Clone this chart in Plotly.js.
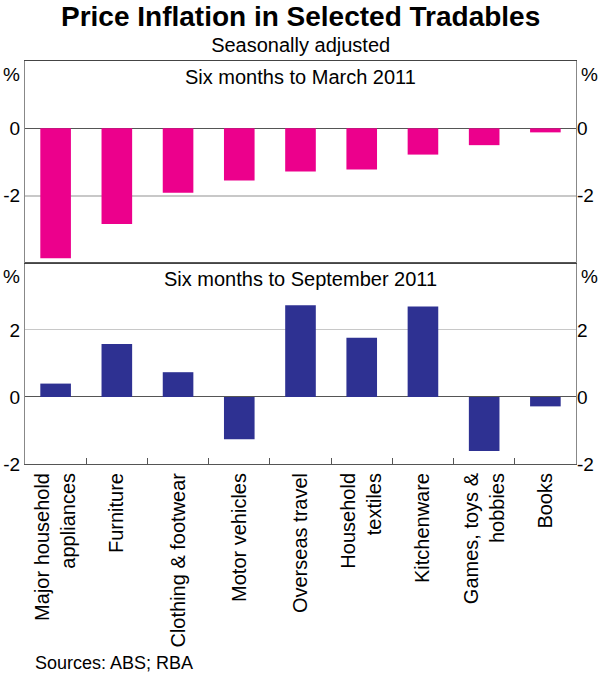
<!DOCTYPE html>
<html>
<head>
<meta charset="utf-8">
<script src="https://cdn.plot.ly/plotly-3.0.1.min.js"></script>
<style>html,body{margin:0;padding:0;background:#fff;}#chart{width:600px;height:675px;}</style>
</head>
<body>
<div id="chart"></div>
<script>
var categories = ["Major household<br>appliances", "Furniture", "Clothing & footwear", "Motor vehicles",
  "Overseas travel", "Household<br>textiles", "Kitchenware", "Games, toys &<br>hobbies", "Books"];
var march2011 = [-3.86, -2.84, -1.91, -1.55, -1.28, -1.22, -0.78, -0.50, -0.12];
var sept2011 = [0.40, 1.58, 0.74, -1.26, 2.74, 1.77, 2.70, -1.61, -0.28];
var topTicks = [-2, 0];
var bottomTicks = [-2, 0, 2];

var FONT = "Liberation Sans, Arial, sans-serif";
var split = 0.4988;

var traces = [
  {type: "bar", x: categories, y: sept2011, xaxis: "x", yaxis: "y",
   marker: {color: "#2E3192"}, width: 0.5, hoverinfo: "skip"},
  {type: "bar", x: categories, y: march2011, xaxis: "x2", yaxis: "y2",
   marker: {color: "#EC008C"}, width: 0.5, hoverinfo: "skip"},
  {type: "scatter", mode: "markers", x: categories, y: sept2011, xaxis: "x", yaxis: "y3",
   marker: {opacity: 0}, hoverinfo: "skip"},
  {type: "scatter", mode: "markers", x: categories, y: march2011, xaxis: "x2", yaxis: "y4",
   marker: {opacity: 0}, hoverinfo: "skip"}
];

var tickFont = {family: FONT, size: 19, color: "#000"};
var yCommon = {
  showline: true, linecolor: "#888", linewidth: 1, mirror: true,
  ticks: "", tickfont: tickFont, showgrid: true, gridcolor: "#c8c8c8", gridwidth: 1,
  zeroline: true, zerolinecolor: "#555", zerolinewidth: 1, fixedrange: true
};

var layout = {
  width: 600, height: 675,
  margin: {l: 25, r: 24, t: 61, b: 211},
  paper_bgcolor: "#fff", plot_bgcolor: "#fff",
  showlegend: false, barmode: "group",
  font: {family: FONT, size: 19, color: "#000"},
  xaxis: {domain: [0, 1], anchor: "y", type: "category", range: [-0.5, 8.5],
    tickangle: -90, tickfont: {family: FONT, size: 20, color: "#000"},
    tickson: "boundaries", ticks: "inside", ticklen: 6, tickcolor: "#555",
    showline: true, linecolor: "#555", mirror: true, showgrid: false, fixedrange: true},
  xaxis2: {domain: [0, 1], anchor: "y2", matches: "x", showticklabels: false, ticks: "",
    showline: true, linecolor: "#444", mirror: true, showgrid: false, fixedrange: true},
  yaxis: Object.assign({}, yCommon, {domain: [0, split], anchor: "x", range: [-2, 4],
    tickvals: bottomTicks, ticktext: bottomTicks.map(String)}),
  yaxis2: Object.assign({}, yCommon, {domain: [split, 1], anchor: "x2", range: [-4, 2],
    tickvals: topTicks, ticktext: topTicks.map(String), gridwidth: 2}),
  yaxis3: {overlaying: "y", side: "right", anchor: "x", range: [-2, 4], tickvals: bottomTicks,
    ticktext: bottomTicks.map(String), showgrid: false, zeroline: false, showline: false,
    tickfont: tickFont, fixedrange: true},
  yaxis4: {overlaying: "y2", side: "right", anchor: "x2", range: [-4, 2], tickvals: topTicks,
    ticktext: topTicks.map(String), showgrid: false, zeroline: false, showline: false,
    tickfont: tickFont, fixedrange: true},
  annotations: [
    {text: "<span style='font-size:28px'><b>Price Inflation in Selected Tradables</b></span><br>Seasonally adjusted",
     xref: "paper", yref: "paper", x: 0.5, y: 1.1514, xanchor: "center", yanchor: "top",
     borderpad: 0, showarrow: false, align: "center",
     font: {family: FONT, size: 20, color: "#000"}},
    {text: "Six months to March 2011", xref: "paper", yref: "paper", x: 0.5, y: 1,
     xanchor: "center", yanchor: "top", yshift: -3, showarrow: false, font: {family: FONT, size: 20, color: "#000"}},
    {text: "Six months to September 2011", xref: "paper", yref: "paper", x: 0.5, y: split,
     xanchor: "center", yanchor: "top", yshift: -3, showarrow: false, font: {family: FONT, size: 20, color: "#000"}},
    {text: "%", xref: "paper", yref: "paper", x: 0, y: 1, xanchor: "right", yanchor: "top",
     xshift: -3, yshift: -1, showarrow: false, font: tickFont},
    {text: "%", xref: "paper", yref: "paper", x: 1, y: 1, xanchor: "left", yanchor: "top",
     xshift: 3, yshift: -1, showarrow: false, font: tickFont},
    {text: "%", xref: "paper", yref: "paper", x: 0, y: split, xanchor: "right", yanchor: "top",
     xshift: -3, yshift: -1, showarrow: false, font: tickFont},
    {text: "%", xref: "paper", yref: "paper", x: 1, y: split, xanchor: "left", yanchor: "top",
     xshift: 3, yshift: -1, showarrow: false, font: tickFont},
    {text: "Sources: ABS; RBA", xref: "paper", yref: "paper", x: 0.0145, y: -0.494,
     xanchor: "left", yanchor: "middle", showarrow: false, font: {family: FONT, size: 18, color: "#000"}}
  ]
};

Plotly.newPlot("chart", traces, layout, {displayModeBar: false, staticPlot: true});
</script>
</body>
</html>
